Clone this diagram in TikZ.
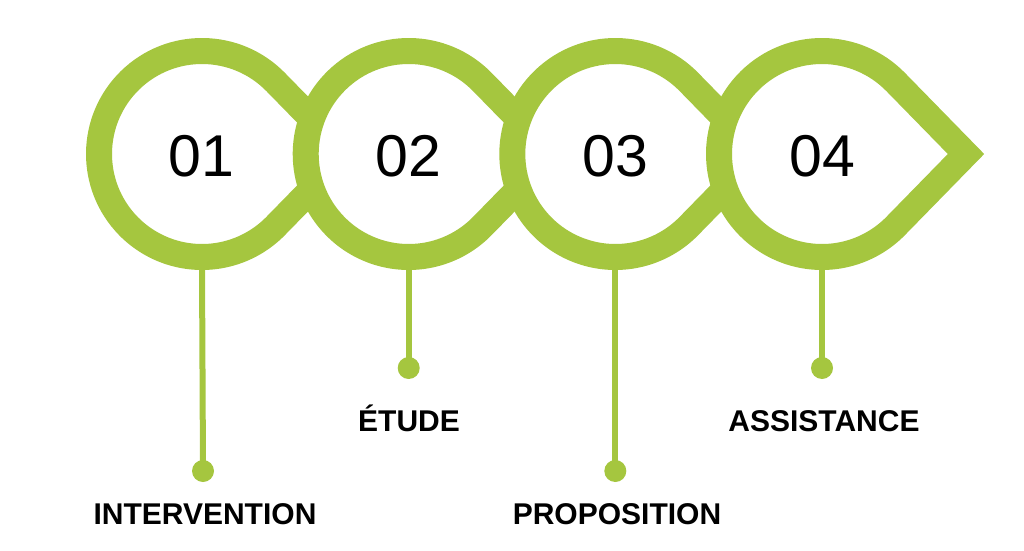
\documentclass[tikz,border=0pt]{standalone}
\usepackage{fontspec}
\setmainfont{Liberation Sans}
\definecolor{leaf}{RGB}{165,198,63}
\begin{document}
\begin{tikzpicture}[x=1pt,y=1pt,
  drop/.style={draw=leaf, fill=white, line width=26pt, line join=miter},
  num/.style={anchor=base, font=\fontsize{59}{59}\selectfont, text=black, inner sep=0pt},
  lbl/.style={anchor=base, font=\fontsize{30}{30}\selectfont\bfseries, text=black, inner sep=0pt},
  stem/.style={draw=leaf, line width=6pt},
  dot/.style={circle, fill=leaf, minimum size=22pt, inner sep=0pt}]
\useasboundingbox (0,0) rectangle (1024,550);
\foreach \i/\cx in {1/202,2/408.7,3/615.3,4/822}{
  \coordinate (c\i) at (\cx,396);
  \coordinate (t\i) at ([xshift=144pt]c\i);
  \coordinate (b\i) at ([yshift=-114pt]c\i);
  \draw[drop] (t\i) -- ([shift={(44.33:103)}]c\i) arc[start angle=44.33, end angle=315.67, radius=103] -- cycle;
}
\node[num] (n1) at (201.5,374) {01};
\node[num] (n2) at (408.5,374) {02};
\node[num] (n3) at (615,374) {03};
\node[num] (n4) at (822,374) {04};
\node[dot] (d1) at (203,79) {};
\node[dot] (d2) at (408.7,182) {};
\node[dot] (d3) at (615.3,79) {};
\node[dot] (d4) at (822,182) {};
\foreach \i in {1,...,4}{ \draw[stem] (b\i) -- (d\i.center); }
\node[lbl] (l1) at (205,26) {INTERVENTION};
\node[lbl] (l2) at (409,119) {ÉTUDE};
\node[lbl] (l3) at (617,26) {PROPOSITION};
\node[lbl] (l4) at (824,119) {ASSISTANCE};
\end{tikzpicture}
\end{document}
